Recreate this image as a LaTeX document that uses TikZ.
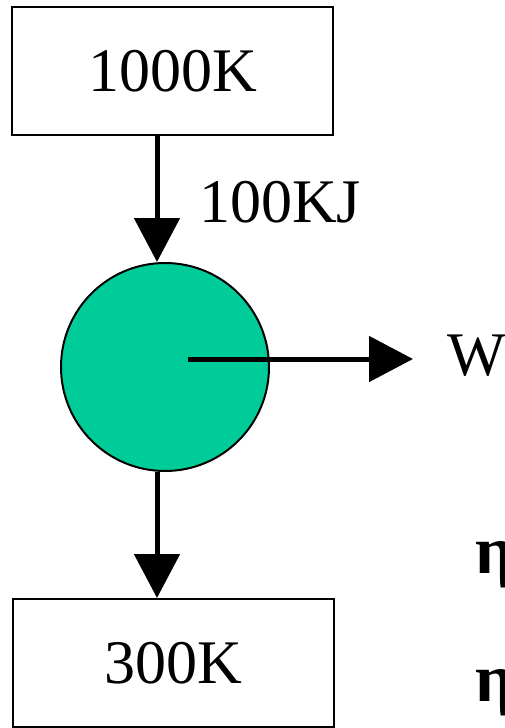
\documentclass[tikz,border=0pt]{standalone}
\usepackage{fontspec}
\setmainfont{Liberation Serif}
\usetikzlibrary{arrows.meta}
\begin{document}
\begin{tikzpicture}[x=1pt,y=1pt,
  bigtext/.style={font=\fontsize{62}{74}\selectfont},
  reservoir/.style={draw=black, line width=2pt, fill=white, inner sep=0pt,
    minimum width=321pt, minimum height=128pt, bigtext},
  engine/.style={circle, draw=black, line width=2pt, fill=enginegreen,
    minimum size=208pt, inner sep=0pt},
  flow/.style={line width=5pt, -{Triangle[width=45pt,length=44pt]}}
]
\definecolor{enginegreen}{RGB}{0,204,153}
\useasboundingbox (0,0) rectangle (504,-728);

% hot and cold reservoirs
\node[reservoir] (hot)  at (172.5,-71) {1000K};
\node[reservoir] (cold) at (173,-663) {300K};

% heat engine
\node[engine] (eng) at (165,-367) {};

% helper points for the connectors
\coordinate (axis) at (157,0);
\coordinate (wstart) at (188,-359);
\coordinate (wend) at (413,-359);

% heat in, work out, heat rejected
\draw[flow] (hot.south -| axis) -- (eng.north -| axis);
\draw[flow] (wstart) -- (wend);
\draw[flow] (eng.south -| axis) -- (cold.north -| axis);

% labels
\node[bigtext, anchor=base west, inner sep=0pt] (qin) at (199,-222) {100KJ};
\node[bigtext, anchor=base west, inner sep=0pt] (work) at (447,-375) {W};
\node[font=\fontsize{68}{80}\selectfont\bfseries, anchor=base west, inner sep=0pt] (eta1) at (475,-573) {η};
\node[font=\fontsize{68}{80}\selectfont\bfseries, anchor=base west, inner sep=0pt] (eta2) at (475,-701) {η};
\end{tikzpicture}
\end{document}
